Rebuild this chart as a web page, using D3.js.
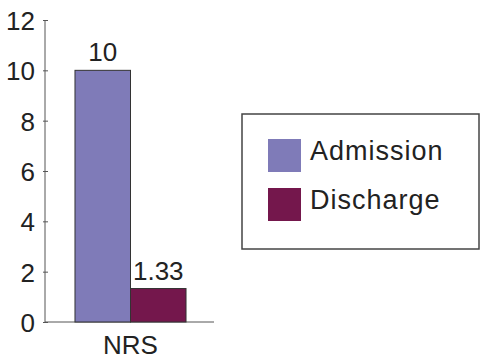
<!doctype html>
<html>
    <head>
        <script src="https://d3js.org/d3.v7.min.js"></script>
        <style>
            body { margin: 0; background: #fff; }
            text { font-family: "Liberation Sans", Arial, sans-serif; fill: #222; }
        </style>
    </head>
    <body>
        <div id="my_dataviz"></div>
        <script>
            // data
            var categories = ["NRS"];
            var series = ["Admission", "Discharge"];
            var values = [10, 1.33];
            var valueLabels = ["10", "1.33"];
            var colors = ["#7f7bb8", "#74174c"];
            var yTicks = [0, 2, 4, 6, 8, 10, 12];

            var W = 482, H = 359;
            var svg = d3.select("#my_dataviz")
                .append("svg")
                .attr("width", W)
                .attr("height", H);

            var y = d3.scaleLinear().domain([0, 12]).range([322, 20]);
            var x0 = d3.scaleBand().domain(categories).range([45, 216]).paddingOuter(0.27);
            var x1 = d3.scaleBand().domain(series).range([0, x0.bandwidth()]);

            // y axis
            var yAxis = svg.append("g")
                .attr("transform", "translate(45,0)")
                .call(d3.axisLeft(y).tickValues(yTicks).tickSize(3).tickPadding(7));
            yAxis.select(".domain").attr("stroke", "#555").attr("d", "M0," + y(12) + "V" + y(0));
            yAxis.selectAll(".tick line").attr("stroke", "#555").attr("x1", -2).attr("x2", 3);
            yAxis.selectAll(".tick text")
                .style("font-size", "26px")
                .style("font-family", "'Liberation Sans', Arial, sans-serif")
                .attr("fill", "#222")
                .attr("dy", "0.36em");

            // x axis
            var xAxis = svg.append("g")
                .attr("transform", "translate(0," + y(0) + ")")
                .call(d3.axisBottom(x0).tickSize(0).tickPadding(14));
            xAxis.select(".domain").attr("stroke", "#555").attr("d", "M45,0H214");
            xAxis.selectAll(".tick text")
                .style("font-size", "26px")
                .style("font-family", "'Liberation Sans', Arial, sans-serif")
                .attr("fill", "#222")
                .attr("dy", "0.71em");

            // bars
            var g = svg.append("g").attr("transform", "translate(" + x0(categories[0]) + ",0)");
            g.selectAll("rect")
                .data(values)
                .enter().append("rect")
                .attr("x", function(d, i) { return x1(series[i]); })
                .attr("y", function(d) { return y(d); })
                .attr("width", x1.bandwidth())
                .attr("height", function(d) { return y(0) - y(d); })
                .attr("fill", function(d, i) { return colors[i]; })
                .attr("stroke", "#333")
                .attr("stroke-width", 1);

            g.selectAll(".vlab")
                .data(values)
                .enter().append("text")
                .attr("class", "vlab")
                .attr("x", function(d, i) { return x1(series[i]) + x1.bandwidth() / 2; })
                .attr("y", function(d) { return y(d) - 9; })
                .attr("text-anchor", "middle")
                .style("font-size", "26px")
                .text(function(d, i) { return valueLabels[i]; });

            // legend
            var legend = svg.append("g");
            legend.append("rect")
                .attr("x", 242).attr("y", 114)
                .attr("width", 237).attr("height", 135)
                .attr("fill", "#fff")
                .attr("stroke", "#444")
                .attr("stroke-width", 1.5);
            var items = legend.selectAll(".item")
                .data(series)
                .enter().append("g")
                .attr("transform", function(d, i) { return "translate(268," + (139 + i * 49) + ")"; });
            items.append("rect")
                .attr("width", 33).attr("height", 33)
                .attr("fill", function(d, i) { return colors[i]; });
            items.append("text")
                .attr("x", 42).attr("y", 21)
                .style("font-size", "27px")
                .style("letter-spacing", "1px")
                .text(function(d) { return d; });
        </script>
    </body>
</html>
